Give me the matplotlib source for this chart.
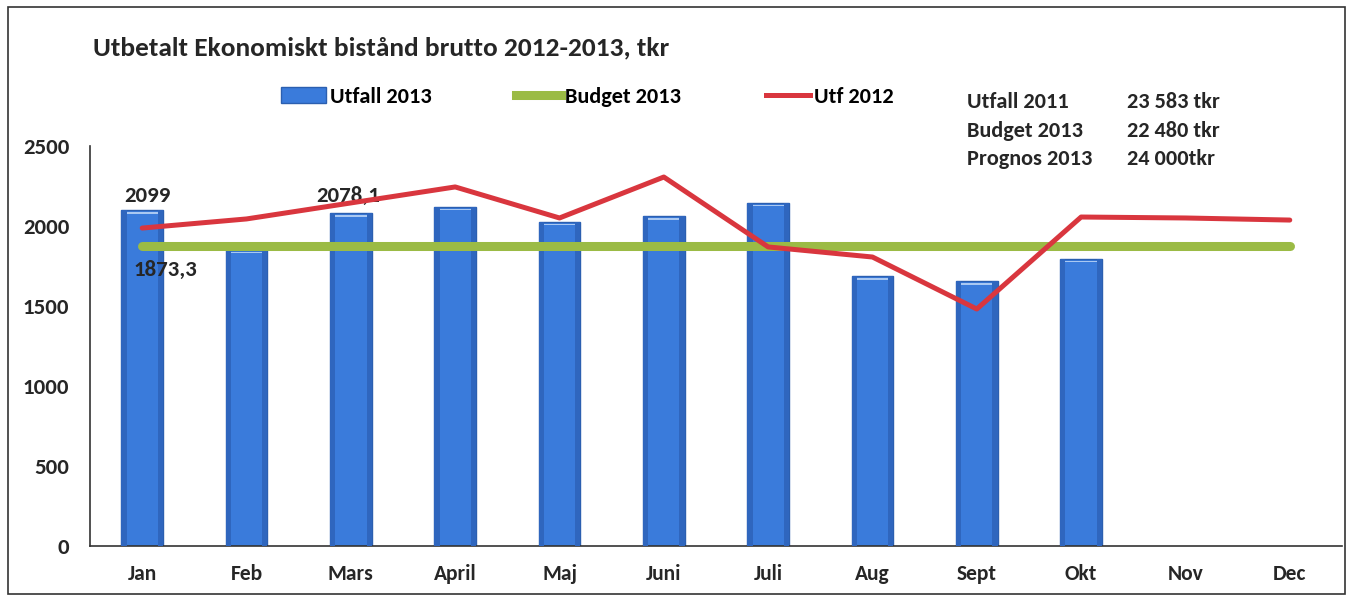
import matplotlib
matplotlib.use("Agg")
import matplotlib.pyplot as plt
from matplotlib.patches import Rectangle, Patch
from matplotlib.lines import Line2D

plt.rcParams['font.family'] = ['Carlito', 'DejaVu Sans']
plt.rcParams['font.weight'] = 'bold'

months = ["Jan", "Feb", "Mars", "April", "Maj", "Juni", "Juli", "Aug", "Sept", "Okt", "Nov", "Dec"]
utfall_2013 = [2099, 1850, 2078.1, 2119, 2025, 2062, 2144, 1687, 1656, 1794, None, None]
budget_2013 = [1873.3] * 12
utf_2012 = [1987, 2044, 2144, 2244, 2050, 2306, 1869, 1806, 1481, 2056, 2050, 2037]
yticks = [0, 500, 1000, 1500, 2000, 2500]

info_labels = ["Utfall 2011", "Budget 2013", "Prognos 2013"]
info_values = ["23 583 tkr", "22 480 tkr", "24 000tkr"]

title = "Utbetalt Ekonomiskt bistånd brutto 2012-2013, tkr"
TXT = '#262626'

fig = plt.figure(figsize=(13.48, 5.99), dpi=100)
ax = fig.add_axes([0.0668, 0.0885, 0.9287, 0.6678])

x = list(range(len(months)))
bx = [i for i, v in enumerate(utfall_2013) if v is not None]
bv = [v for v in utfall_2013 if v is not None]
bars = ax.bar(bx, bv, width=0.4, color='#3A7BDB', edgecolor='#2B5FB0', linewidth=1.0, zorder=2)
for b in bars:
    ax.add_patch(Rectangle((b.get_x() + 0.04, b.get_height() - 22), b.get_width() - 0.08, 12,
                           facecolor='#A9C8F2', edgecolor='none', zorder=3))
    ax.add_patch(Rectangle((b.get_x(), 0), 0.05, b.get_height(),
                           facecolor='#2F66BE', edgecolor='none', zorder=3))
    ax.add_patch(Rectangle((b.get_x() + b.get_width() - 0.05, 0), 0.05, b.get_height(),
                           facecolor='#2F66BE', edgecolor='none', zorder=3))

ax.plot(x, budget_2013, color='#9BBB45', linewidth=6.5, solid_capstyle='round', zorder=4)
ax.plot(x, utf_2012, color='#D9363E', linewidth=3.6, solid_capstyle='round', zorder=5)

ax.text(0.05, 2185, "2099", ha='center', va='center', fontsize=16.5, color=TXT, fontweight='bold')
ax.text(1.97, 2185, "2078,1", ha='center', va='center', fontsize=16.5, color=TXT, fontweight='bold')
ax.text(0.22, 1725, "1873,3", ha='center', va='center', fontsize=16.5, color=TXT, fontweight='bold')

ax.set_xlim(-0.5, 11.5)
ax.set_ylim(0, 2500)
ax.set_yticks(yticks)
ax.set_yticklabels([str(t) for t in yticks], fontsize=16.5, fontweight='bold', color=TXT)
ax.set_xticks(x)
ax.set_xticklabels(months, fontsize=15.5, fontweight='bold', color=TXT)
ax.tick_params(axis='both', length=0)
ax.tick_params(axis='y', pad=15)
ax.tick_params(axis='x', pad=13)
for s in ['top', 'right']:
    ax.spines[s].set_visible(False)
for s in ['left', 'bottom']:
    ax.spines[s].set_color('#333333')
    ax.spines[s].set_linewidth(1.2)

handles = [Patch(facecolor='#3A7BDB', edgecolor='#2B5FB0'),
           Line2D([], [], color='#9BBB45', linewidth=6.5),
           Line2D([], [], color='#D9363E', linewidth=3.6)]
fig.legend(handles, ["Utfall 2013", "Budget 2013", "Utf 2012"], ncol=3,
           loc='center left', bbox_to_anchor=(0.197, 0.838), frameon=False,
           prop={'family': 'Carlito', 'size': 16, 'weight': 'bold'}, handlelength=2.0,
           handletextpad=0.2, columnspacing=3.8, borderpad=0.2)

fig.text(0.069, 0.92, title, fontsize=19.7, fontweight='bold', color=TXT, va='center', ha='left')

for i, (lab, val) in enumerate(zip(info_labels, info_values)):
    yy = 0.829 - i * 0.047
    fig.text(0.717, yy, lab, fontsize=16, fontweight='bold', color=TXT, va='center')
    fig.text(0.836, yy, val, fontsize=16, fontweight='bold', color=TXT, va='center')

fig.add_artist(Rectangle((0.006, 0.008), 0.992, 0.98, transform=fig.transFigure,
                         fill=False, edgecolor='#333333', linewidth=1.2))

fig.savefig("out.png", dpi=100)
